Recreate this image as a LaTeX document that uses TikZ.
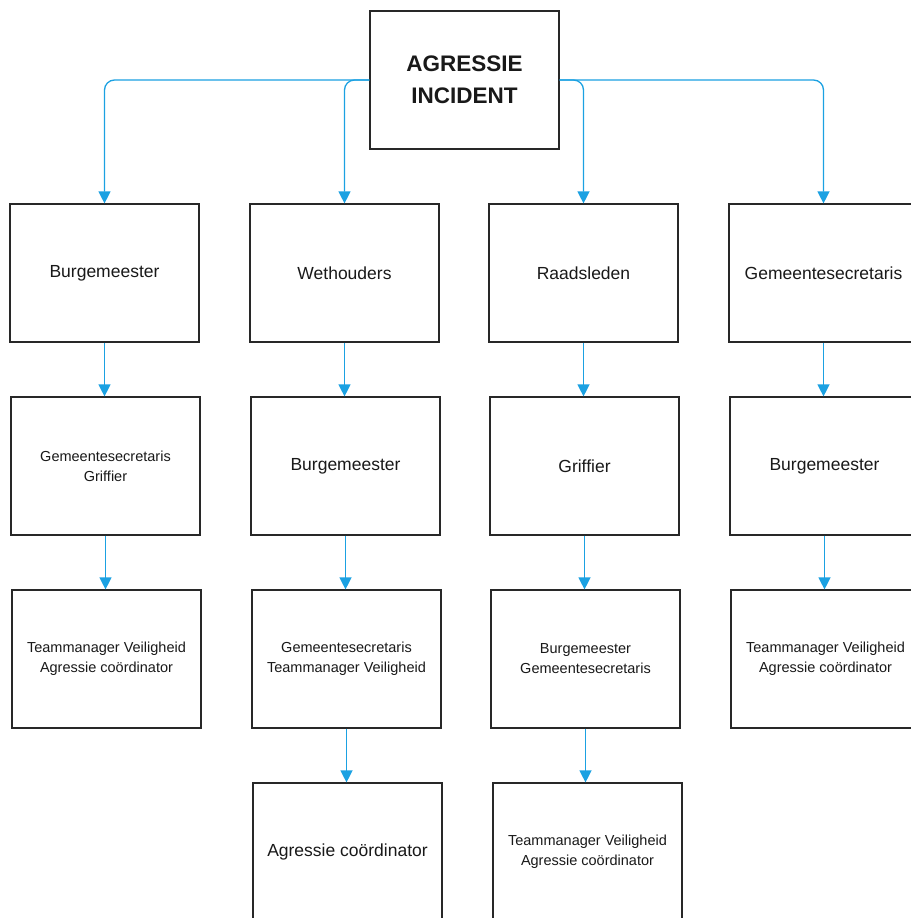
\documentclass[tikz,border=0pt]{standalone}
\usepackage{fontspec}
\setmainfont{Liberation Sans}
\usetikzlibrary{arrows.meta}
\usetikzlibrary{positioning}
\definecolor{linkblue}{RGB}{27,161,226}
\definecolor{boxline}{RGB}{40,40,40}

\begin{document}
\begin{tikzpicture}[x=1pt, y=-1pt,
    box/.style={draw=boxline, line width=1.2pt, rectangle, minimum width=189pt, minimum height=138pt, inner sep=0pt, align=center, text=black!90},
    big/.style={font=\fontsize{17.5}{21}\selectfont},
    small/.style={font=\fontsize{14.5}{20}\selectfont},
    link/.style={draw=linkblue, line width=1.3pt, -{Triangle[length=12pt, width=12pt]}}]
    \useasboundingbox (0,0) rectangle (910,918);
    \fill[white] (0,0) rectangle (910,918);

    % Incident
    \node[box, font=\fontsize{22.5}{32}\selectfont\bfseries] (inc) at (464.5, 80) {AGRESSIE\\INCIDENT};

    % First row
    \node[box, big] (b1) at (104.5, 273) {Burgemeester};
    \node[box, big] (w1) at (344.5, 273) {Wethouders};
    \node[box, big] (r1) at (583.5, 273) {Raadsleden};
    \node[box, big] (g1) at (823.5, 273) {Gemeentesecretaris};

    % Second row
    \node[box, small] (b2) at (105.5, 466) {Gemeentesecretaris\\Griffier};
    \node[box, big] (w2) at (345.5, 466) {Burgemeester};
    \node[box, big] (r2) at (584.5, 466) {Griffier};
    \node[box, big] (g2) at (824.5, 466) {Burgemeester};

    % Third row
    \node[box, small] (b3) at (106.5, 659) {Teammanager Veiligheid\\Agressie co\"ordinator};
    \node[box, small] (w3) at (346.5, 659) {Gemeentesecretaris\\Teammanager Veiligheid};
    \node[box, small] (r3) at (585.5, 659) {Burgemeester\\Gemeentesecretaris};
    \node[box, small] (g3) at (825.5, 659) {Teammanager Veiligheid\\Agressie co\"ordinator};

    % Fourth row
    \node[box, big] (w4) at (347.5, 852) {Agressie co\"ordinator};
    \node[box, small] (r4) at (587.5, 852) {Teammanager Veiligheid\\Agressie co\"ordinator};

    % From the incident
    \draw[link, rounded corners=10pt] (inc.west) -| (b1.north);
    \draw[link, rounded corners=10pt] (inc.west) -| (w1.north);
    \draw[link, rounded corners=10pt] (inc.east) -| (r1.north);
    \draw[link, rounded corners=10pt] (inc.east) -| (g1.north);

    % Down the columns
    \draw[link] (b1.south) -- (b1.south |- b2.north);
    \draw[link] (b2.south) -- (b2.south |- b3.north);
    \draw[link] (w1.south) -- (w1.south |- w2.north);
    \draw[link] (w2.south) -- (w2.south |- w3.north);
    \draw[link] (w3.south) -- (w3.south |- w4.north);
    \draw[link] (r1.south) -- (r1.south |- r2.north);
    \draw[link] (r2.south) -- (r2.south |- r3.north);
    \draw[link] (r3.south) -- (r3.south |- r4.north);
    \draw[link] (g1.south) -- (g1.south |- g2.north);
    \draw[link] (g2.south) -- (g2.south |- g3.north);
\end{tikzpicture}
\end{document}
